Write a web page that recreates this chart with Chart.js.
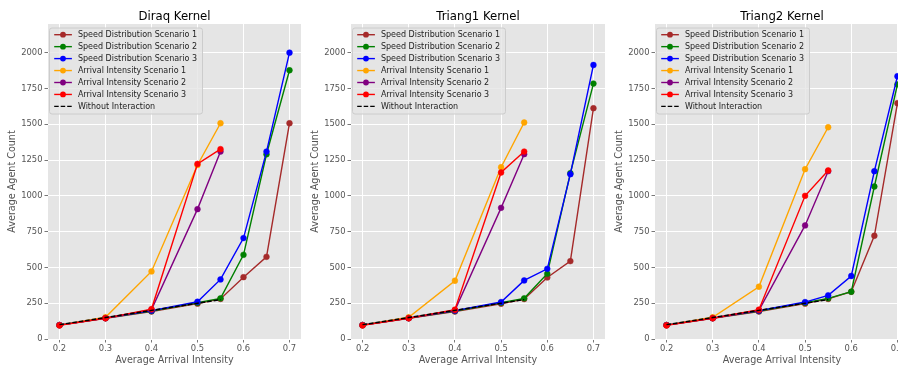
<!DOCTYPE html>
<html>
<head>
<meta charset="utf-8">
<script src="https://cdn.jsdelivr.net/npm/chart.js@4.4.1/dist/chart.umd.min.js"></script>
<style>
  html, body { margin: 0; padding: 0; background: #fff; }
  .wrap { position: relative; width: 898px; height: 372px; overflow: hidden; }
  canvas { position: absolute; top: 0; }
</style>
</head>
<body>
<div class="wrap">
  <canvas id="c1" width="301" height="372" style="left:0px"></canvas>
  <canvas id="c2" width="302" height="372" style="left:303px"></canvas>
  <canvas id="c3" width="302" height="372" style="left:607px"></canvas>
</div>
<script>
const xSpeed = [0.2, 0.3, 0.4, 0.5, 0.55, 0.6, 0.65, 0.7];
const xArrival = [0.2, 0.3, 0.4, 0.5, 0.55];
const xTicks = [0.2, 0.3, 0.4, 0.5, 0.6, 0.7];
const yTicks = [0, 250, 500, 750, 1000, 1250, 1500, 1750, 2000];

const seriesNames = [
  "Speed Distribution Scenario 1",
  "Speed Distribution Scenario 2",
  "Speed Distribution Scenario 3",
  "Arrival Intensity Scenario 1",
  "Arrival Intensity Scenario 2",
  "Arrival Intensity Scenario 3",
  "Without Interaction"
];
const seriesColors = ["#a52a2a", "#008000", "#0000ff", "#ffa500", "#800080", "#ff0000", "#000000"];

// Diraq
const diraqSpeed1 = [97, 145, 192, 247, 280, 432, 574, 1507];
const diraqSpeed2 = [97, 146, 195, 253, 284, 588, 1290, 1877];
const diraqSpeed3 = [97, 146, 198, 260, 416, 705, 1309, 2000];
const diraqArrival1 = [97, 152, 472, 1215, 1507];
const diraqArrival2 = [97, 146, 205, 907, 1309];
const diraqArrival3 = [95, 145, 209, 1223, 1326];

// Triang1
const tri1Speed1 = [97, 145, 192, 246, 279, 430, 544, 1612];
const tri1Speed2 = [97, 146, 195, 253, 284, 456, 1158, 1784];
const tri1Speed3 = [97, 146, 198, 258, 409, 490, 1151, 1914];
const tri1Arrival1 = [97, 152, 407, 1200, 1512];
const tri1Arrival2 = [97, 146, 200, 916, 1291];
const tri1Arrival3 = [95, 145, 205, 1163, 1309];

// Triang2
const tri2Speed1 = [97, 145, 192, 247, 280, 330, 721, 1647];
const tri2Speed2 = [97, 146, 195, 253, 284, 330, 1065, 1779];
const tri2Speed3 = [97, 146, 198, 258, 305, 440, 1172, 1835];
const tri2Arrival1 = [97, 152, 365, 1186, 1479];
const tri2Arrival2 = [97, 146, 200, 793, 1172];
const tri2Arrival3 = [95, 145, 205, 1000, 1177];

const withoutInteraction = [100, 150, 200, 250, 275];

const toPoints = function (xs, ys) {
  return ys.map((y, i) => ({ x: xs[i], y: y }));
};

const bgPlugin = {
  id: "bgPlugin",
  beforeDraw(chart) {
    const { ctx, chartArea } = chart;
    ctx.save();
    ctx.fillStyle = "#e5e5e5";
    ctx.fillRect(chartArea.left, chartArea.top, chartArea.right - chartArea.left, chartArea.bottom - chartArea.top);
    ctx.restore();
  }
};

const titlePlugin = {
  id: "titlePlugin",
  afterDraw(chart) {
    const { ctx, chartArea } = chart;
    ctx.save();
    ctx.fillStyle = "#000";
    ctx.font = "11.7px 'DejaVu Sans'";
    ctx.textAlign = "center";
    ctx.textBaseline = "alphabetic";
    ctx.fillText(chart.options.plugins.titlePlugin.text, (chartArea.left + chartArea.right) / 2, 19.5);
    ctx.restore();
  }
};

const legendPlugin = {
  id: "legendPlugin",
  afterDatasetsDraw(chart) {
    const { ctx, chartArea } = chart;
    const x = chartArea.left + 1.5;
    const y = chartArea.top + 4;
    const w = 153, h = 86, r = 2.5;
    ctx.save();
    ctx.beginPath();
    ctx.moveTo(x + r, y);
    ctx.arcTo(x + w, y, x + w, y + h, r);
    ctx.arcTo(x + w, y + h, x, y + h, r);
    ctx.arcTo(x, y + h, x, y, r);
    ctx.arcTo(x, y, x + w, y, r);
    ctx.closePath();
    ctx.fillStyle = "rgba(229,229,229,0.8)";
    ctx.fill();
    ctx.strokeStyle = "#cccccc";
    ctx.lineWidth = 1;
    ctx.stroke();

    ctx.font = "8px 'DejaVu Sans'";
    ctx.textBaseline = "middle";
    ctx.textAlign = "left";
    chart.data.datasets.forEach((ds, i) => {
      const cy = y + 6.7 + i * 11.95;
      ctx.strokeStyle = ds.borderColor;
      ctx.lineWidth = 1.4;
      ctx.setLineDash(ds.borderDash || []);
      ctx.beginPath();
      ctx.moveTo(x + 4.7, cy);
      ctx.lineTo(x + 22.4, cy);
      ctx.stroke();
      ctx.setLineDash([]);
      if (ds.pointRadius > 0) {
        ctx.fillStyle = ds.borderColor;
        ctx.beginPath();
        ctx.arc(x + 13.5, cy, 2.9, 0, Math.PI * 2);
        ctx.fill();
      }
      ctx.fillStyle = "#222";
      ctx.fillText(ds.label, x + 28.4, cy + 0.5);
    });
    ctx.restore();
  }
};

const makeDataset = function (i, xs, ys) {
  const dashed = i == 6;
  return {
    label: seriesNames[i],
    data: toPoints(xs, ys),
    borderColor: seriesColors[i],
    backgroundColor: seriesColors[i],
    borderWidth: 1.4,
    borderDash: dashed ? [4.5, 2] : [],
    pointRadius: dashed ? 0 : 2.9,
    pointBorderWidth: 0.5,
    pointBackgroundColor: seriesColors[i],
    pointBorderColor: seriesColors[i],
    tension: 0,
    order: 7 - i
  };
};

const makeChart = function (id, title, s1, s2, s3, a1, a2, a3) {
  const ctx = document.getElementById(id).getContext("2d");
  return new Chart(ctx, {
    type: "line",
    data: {
      datasets: [
        makeDataset(0, xSpeed, s1),
        makeDataset(1, xSpeed, s2),
        makeDataset(2, xSpeed, s3),
        makeDataset(3, xArrival, a1),
        makeDataset(4, xArrival, a2),
        makeDataset(5, xArrival, a3),
        makeDataset(6, xArrival, withoutInteraction)
      ]
    },
    options: {
      responsive: false,
      animation: false,
      devicePixelRatio: 1,
      layout: { autoPadding: false, padding: { top: 24, left: 0, right: 0, bottom: 0 } },
      plugins: {
        legend: { display: false },
        tooltip: { enabled: false },
        titlePlugin: { text: title }
      },
      scales: {
        x: {
          type: "linear",
          min: 0.175,
          max: 0.725,
          afterBuildTicks: function (scale) {
            scale.ticks = xTicks.map(v => ({ value: v }));
          },
          afterFit: function (scale) {
            scale.height = 33;
            scale.paddingLeft = 0;
            scale.paddingRight = 0;
          },
          grid: { color: "#ffffff", lineWidth: 1, tickColor: "#555555", tickLength: 3.5, tickWidth: 0.8 },
          border: { display: false },
          ticks: {
            color: "#555555",
            font: { family: "DejaVu Sans", size: 8.4 },
            padding: 1,
            maxRotation: 0,
            callback: v => v.toFixed(1)
          },
          title: {
            display: true,
            text: "Average Arrival Intensity",
            color: "#555555",
            font: { family: "DejaVu Sans", size: 9.6 },
            padding: { top: 0, bottom: 5.5 }
          }
        },
        y: {
          min: 0,
          max: 2200,
          afterBuildTicks: function (scale) {
            scale.ticks = yTicks.map(v => ({ value: v }));
          },
          afterFit: function (scale) {
            scale.width = 48;
            scale.paddingTop = 0;
            scale.paddingBottom = 0;
          },
          grid: { color: "#ffffff", lineWidth: 1, tickColor: "#555555", tickLength: 3.5, tickWidth: 0.8 },
          border: { display: false },
          ticks: {
            color: "#555555",
            font: { family: "DejaVu Sans", size: 8.4 },
            padding: 2,
            callback: v => String(v)
          },
          title: {
            display: true,
            text: "Average Agent Count",
            color: "#555555",
            font: { family: "DejaVu Sans", size: 9.6 },
            padding: { top: 6.5, bottom: 0 }
          }
        }
      }
    },
    plugins: [bgPlugin, legendPlugin, titlePlugin]
  });
};

document.addEventListener("DOMContentLoaded", function () {
  makeChart("c1", "Diraq Kernel", diraqSpeed1, diraqSpeed2, diraqSpeed3, diraqArrival1, diraqArrival2, diraqArrival3);
  makeChart("c2", "Triang1 Kernel", tri1Speed1, tri1Speed2, tri1Speed3, tri1Arrival1, tri1Arrival2, tri1Arrival3);
  makeChart("c3", "Triang2 Kernel", tri2Speed1, tri2Speed2, tri2Speed3, tri2Arrival1, tri2Arrival2, tri2Arrival3);
});
</script>
</body>
</html>
